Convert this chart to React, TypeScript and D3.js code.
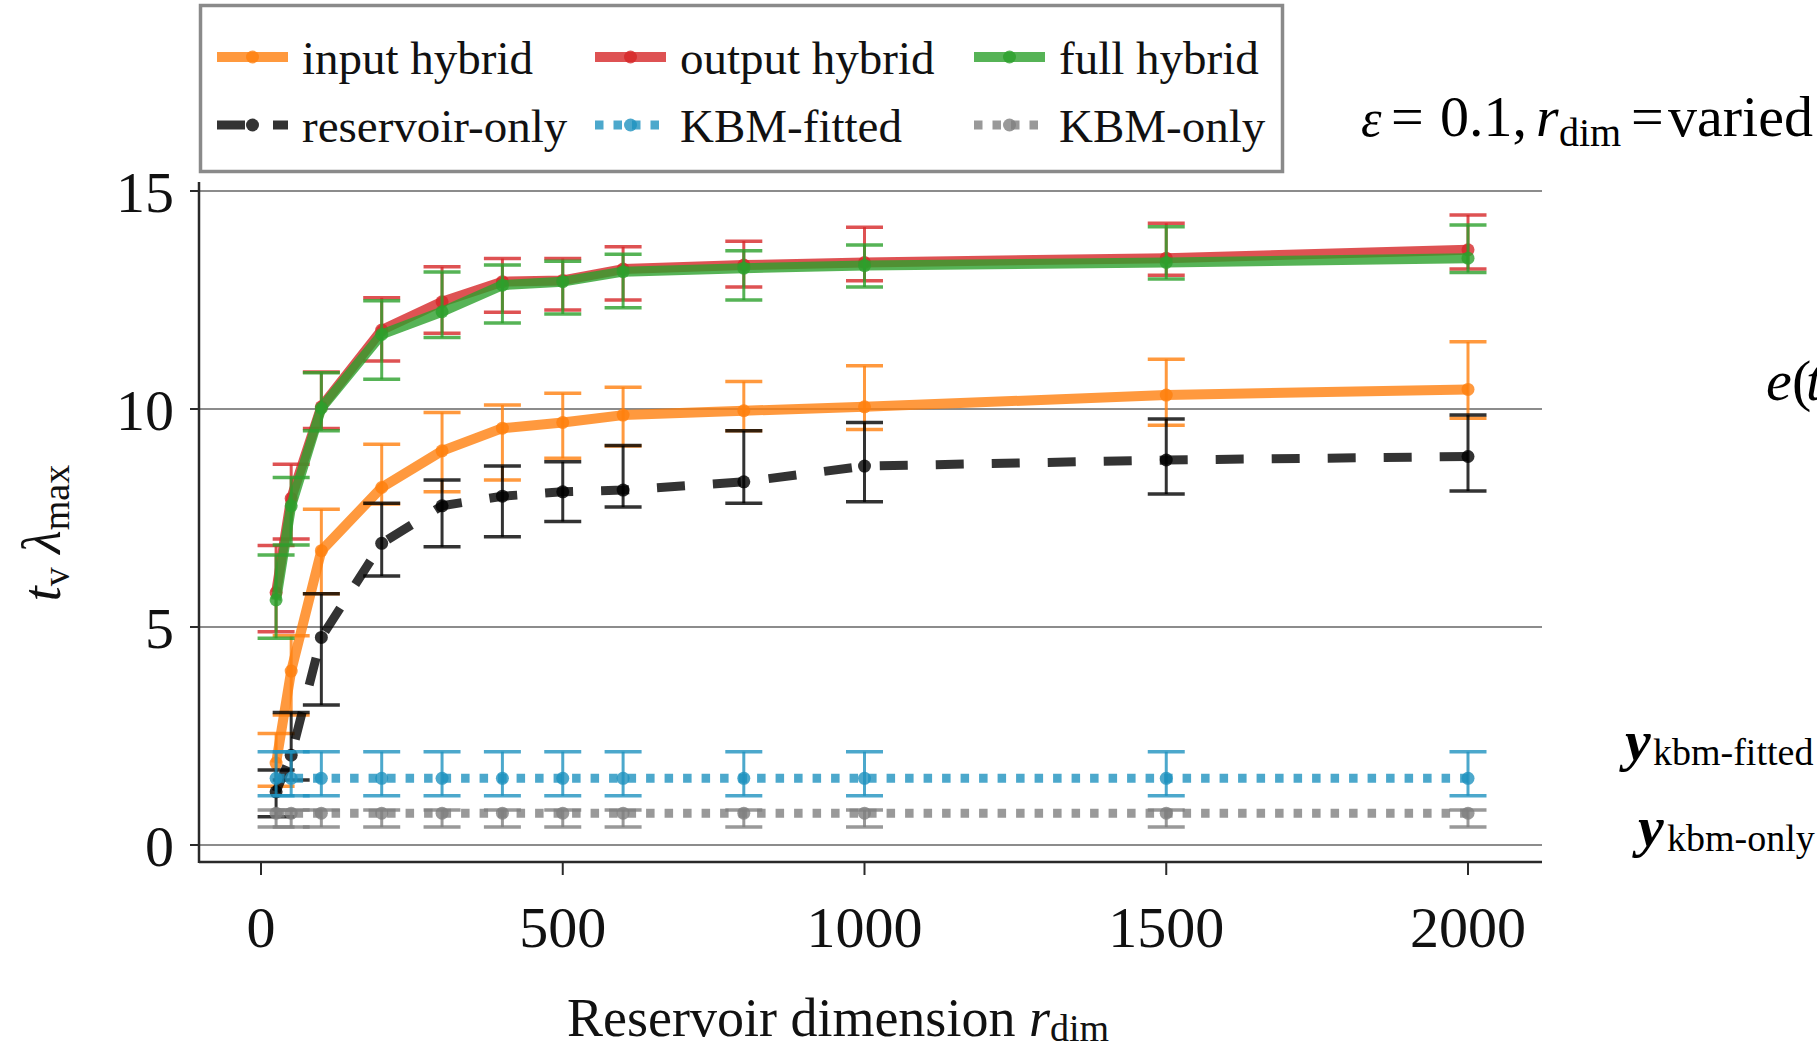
import React from 'react';
import * as d3 from 'd3';

// ---------- data ----------
const R_DIM = [25, 50, 100, 200, 300, 400, 500, 600, 800, 1000, 1500, 2000];

const INPUT_MEAN = [1.88, 3.99, 6.75, 8.2, 9.04, 9.56, 9.69, 9.86, 9.96, 10.05, 10.32, 10.45];
const INPUT_LO = [1.35, 2.98, 5.76, 7.82, 8.1, 8.37, 8.87, 9.15, 9.5, 9.53, 9.63, 9.79];
const INPUT_HI = [2.56, 4.8, 7.7, 9.19, 9.92, 10.09, 10.36, 10.5, 10.63, 10.99, 11.14, 11.54];

const OUTPUT_MEAN = [5.79, 7.95, 10.05, 11.81, 12.46, 12.92, 12.95, 13.21, 13.3, 13.36, 13.46, 13.65];
const OUTPUT_LO = [4.89, 7.02, 9.55, 11.1, 11.74, 12.22, 12.27, 12.5, 12.8, 12.94, 13.07, 13.21];
const OUTPUT_HI = [6.87, 8.73, 10.85, 12.55, 13.26, 13.45, 13.45, 13.72, 13.85, 14.17, 14.26, 14.45];

const FULL_MEAN = [5.62, 7.78, 10.02, 11.71, 12.23, 12.84, 12.92, 13.15, 13.23, 13.29, 13.36, 13.46];
const FULL_LO = [4.74, 6.88, 9.5, 10.68, 11.64, 11.97, 12.18, 12.32, 12.5, 12.8, 12.98, 13.13];
const FULL_HI = [6.65, 8.43, 10.83, 12.48, 13.14, 13.3, 13.39, 13.55, 13.63, 13.76, 14.18, 14.22];

const RES_MEAN = [1.22, 2.06, 4.76, 6.92, 7.78, 8.0, 8.1, 8.14, 8.33, 8.69, 8.83, 8.91];
const RES_LO = [0.65, 1.49, 3.21, 6.17, 6.84, 7.07, 7.42, 7.75, 7.84, 7.87, 8.05, 8.12];
const RES_HI = [1.72, 3.04, 5.76, 7.84, 8.37, 8.69, 8.79, 9.16, 9.5, 9.69, 9.77, 9.86];

const FITTED_MEAN = [1.53, 1.53, 1.53, 1.53, 1.53, 1.53, 1.53, 1.53, 1.53, 1.53, 1.53, 1.53];
const FITTED_LO = [1.13, 1.13, 1.13, 1.13, 1.13, 1.13, 1.13, 1.13, 1.13, 1.13, 1.13, 1.13];
const FITTED_HI = [2.14, 2.14, 2.14, 2.14, 2.14, 2.14, 2.14, 2.14, 2.14, 2.14, 2.14, 2.14];

const ONLY_MEAN = [0.73, 0.73, 0.73, 0.73, 0.73, 0.73, 0.73, 0.73, 0.73, 0.73, 0.73, 0.73];
const ONLY_LO = [0.41, 0.41, 0.41, 0.41, 0.41, 0.41, 0.41, 0.41, 0.41, 0.41, 0.41, 0.41];
const ONLY_HI = [0.8, 0.8, 0.8, 0.8, 0.8, 0.8, 0.8, 0.8, 0.8, 0.8, 0.8, 0.8];

const X_TICKS = [0, 500, 1000, 1500, 2000];
const Y_TICKS = [0, 5, 10, 15];

type Series = {
  label: string;
  color: string;
  dash: string | null;
  width: number;
  mean: number[];
  lo: number[];
  hi: number[];
};

// drawing order (matplotlib plotting order)
const SERIES: Series[] = [
  { label: 'input hybrid', color: '#ff7f0e', dash: null, width: 10, mean: INPUT_MEAN, lo: INPUT_LO, hi: INPUT_HI },
  { label: 'reservoir-only', color: '#000000', dash: '28,28', width: 9, mean: RES_MEAN, lo: RES_LO, hi: RES_HI },
  { label: 'output hybrid', color: '#d62728', dash: null, width: 10, mean: OUTPUT_MEAN, lo: OUTPUT_LO, hi: OUTPUT_HI },
  { label: 'KBM-fitted', color: '#1f92bf', dash: '8.5,10', width: 9, mean: FITTED_MEAN, lo: FITTED_LO, hi: FITTED_HI },
  { label: 'full hybrid', color: '#2ca02c', dash: null, width: 10, mean: FULL_MEAN, lo: FULL_LO, hi: FULL_HI },
  { label: 'KBM-only', color: '#7f7f7f', dash: '8.5,10', width: 9, mean: ONLY_MEAN, lo: ONLY_LO, hi: ONLY_HI },
];

// legend layout: column-wise fill
const LEGEND_ORDER = [
  ['input hybrid', 'reservoir-only'],
  ['output hybrid', 'KBM-fitted'],
  ['full hybrid', 'KBM-only'],
];

const FONT = "'Liberation Serif', 'Times New Roman', serif";
const ALPHA = 0.8;

export default function App() {
  const x = d3.scaleLinear().domain([0, 2000]).range([261, 1468]);
  const y = d3.scaleLinear().domain([0, 15]).range([845, 191]);

  const plotLeft = 199;
  const plotRight = 1542;
  const spineBottom = 862;
  const spineTop = 182;

  const line = d3
    .line<number>()
    .x((_, i) => x(R_DIM[i]))
    .y((d) => y(d));

  const capHalf = 18.5;

  const legendCols = [217, 595, 974];
  const legendRows = [57, 125];
  const handleLen = 71;

  return (
    <svg
      width={1817}
      height={1050}
      style={{ position: 'absolute', left: 0, top: 0, background: '#fff' }}
      fontFamily={FONT}
    >
      <rect x={0} y={0} width={1817} height={1050} fill="#fff" />

      {/* grid */}
      {Y_TICKS.map((t) => (
        <line key={'g' + t} x1={plotLeft} x2={plotRight} y1={y(t)} y2={y(t)} stroke="#8c8c8c" strokeWidth={2} />
      ))}

      {/* spines */}
      <line x1={plotLeft} x2={plotLeft} y1={spineTop} y2={spineBottom + 1} stroke="#2a2a2a" strokeWidth={2.5} />
      <line x1={plotLeft} x2={plotRight} y1={spineBottom} y2={spineBottom} stroke="#2a2a2a" strokeWidth={2.5} />

      {/* y ticks */}
      {Y_TICKS.map((t) => (
        <g key={'yt' + t}>
          <line x1={190} x2={plotLeft} y1={y(t)} y2={y(t)} stroke="#2a2a2a" strokeWidth={2} />
          <text x={174} y={y(t) + 21} fontSize={58} textAnchor="end" fill="#111">
            {t}
          </text>
        </g>
      ))}

      {/* x ticks */}
      {X_TICKS.map((t) => (
        <g key={'xt' + t}>
          <line x1={x(t)} x2={x(t)} y1={spineBottom} y2={875} stroke="#2a2a2a" strokeWidth={2} />
          <text x={x(t)} y={947} fontSize={58} textAnchor="middle" fill="#111">
            {t}
          </text>
        </g>
      ))}

      {/* series */}
      {SERIES.map((s) => (
        <g key={s.label}>
          {R_DIM.map((r, i) => (
            <g key={i} stroke={s.color} strokeOpacity={ALPHA}>
              <line x1={x(r)} x2={x(r)} y1={y(s.lo[i])} y2={y(s.hi[i])} strokeWidth={3} />
              <line x1={x(r) - capHalf} x2={x(r) + capHalf} y1={y(s.lo[i])} y2={y(s.lo[i])} strokeWidth={3.5} />
              <line x1={x(r) - capHalf} x2={x(r) + capHalf} y1={y(s.hi[i])} y2={y(s.hi[i])} strokeWidth={3.5} />
            </g>
          ))}
          <path
            d={line(s.mean) || ''}
            fill="none"
            stroke={s.color}
            strokeOpacity={ALPHA}
            strokeWidth={s.width}
            strokeDasharray={s.dash || undefined}
            strokeLinejoin="round"
            strokeLinecap="butt"
          />
          {R_DIM.map((r, i) => (
            <circle key={'m' + i} cx={x(r)} cy={y(s.mean[i])} r={6.5} fill={s.color} fillOpacity={ALPHA} />
          ))}
        </g>
      ))}

      {/* legend */}
      <rect x={200.5} y={5.5} width={1082} height={166} fill="#fff" stroke="#8a8a8a" strokeWidth={3.5} />
      {LEGEND_ORDER.map((col, ci) =>
        col.map((lab, ri) => {
          const s = SERIES.find((q) => q.label === lab)!;
          const hx = legendCols[ci];
          const hy = legendRows[ri];
          return (
            <g key={lab}>
              <line
                x1={hx}
                x2={hx + handleLen}
                y1={hy}
                y2={hy}
                stroke={s.color}
                strokeOpacity={ALPHA}
                strokeWidth={s.width}
                strokeDasharray={s.dash || undefined}
              />
              <circle cx={hx + handleLen / 2} cy={hy} r={6.5} fill={s.color} fillOpacity={ALPHA} />
              <text x={hx + 85} y={hy + 17} fontSize={47} fill="#111">
                {lab}
              </text>
            </g>
          );
        })
      )}

      {/* title-like annotation */}
      <text y={136} fontSize={58} fill="#000">
        <tspan x={1361} fontStyle="italic" fontSize={52}>ε</tspan>
        <tspan x={1391}>=</tspan>
        <tspan x={1440}>0.1,</tspan>
        <tspan x={1536} fontStyle="italic">r</tspan>
        <tspan x={1559} y={146} fontSize={40}>dim</tspan>
        <tspan x={1631} y={136}>=</tspan>
        <tspan x={1668}>varied</tspan>
      </text>

      {/* clipped annotations from neighbouring panel */}
      <text y={400} fontSize={58} fill="#000">
        <tspan x={1766} fontStyle="italic">e</tspan>
        <tspan x={1792}>(</tspan>
        <tspan x={1806} fontStyle="italic">t</tspan>
      </text>
      <text y={760} fontSize={58} fill="#000">
        <tspan x={1625} fontStyle="italic" fontWeight="bold">y</tspan>
        <tspan x={1653} y={765} fontSize={38}>kbm-fitted</tspan>
      </text>
      <text y={846} fontSize={58} fill="#000">
        <tspan x={1638} fontStyle="italic" fontWeight="bold">y</tspan>
        <tspan x={1667} y={851} fontSize={38}>kbm-only</tspan>
      </text>

      {/* axis labels */}
      <text x={838} y={1036} fontSize={54} textAnchor="middle" fill="#111">
        <tspan>Reservoir dimension </tspan>
        <tspan fontStyle="italic">r</tspan>
        <tspan fontSize={38} dy={5}>dim</tspan>
      </text>
      <text transform="translate(60,533) rotate(-90)" fontSize={54} textAnchor="middle" fill="#111">
        <tspan fontStyle="italic">t</tspan>
        <tspan fontSize={38} dy={9}>v</tspan>
        <tspan dy={-9}> </tspan>
        <tspan fontStyle="italic">λ</tspan>
        <tspan fontSize={38} dy={9}>max</tspan>
      </text>
    </svg>
  );
}
